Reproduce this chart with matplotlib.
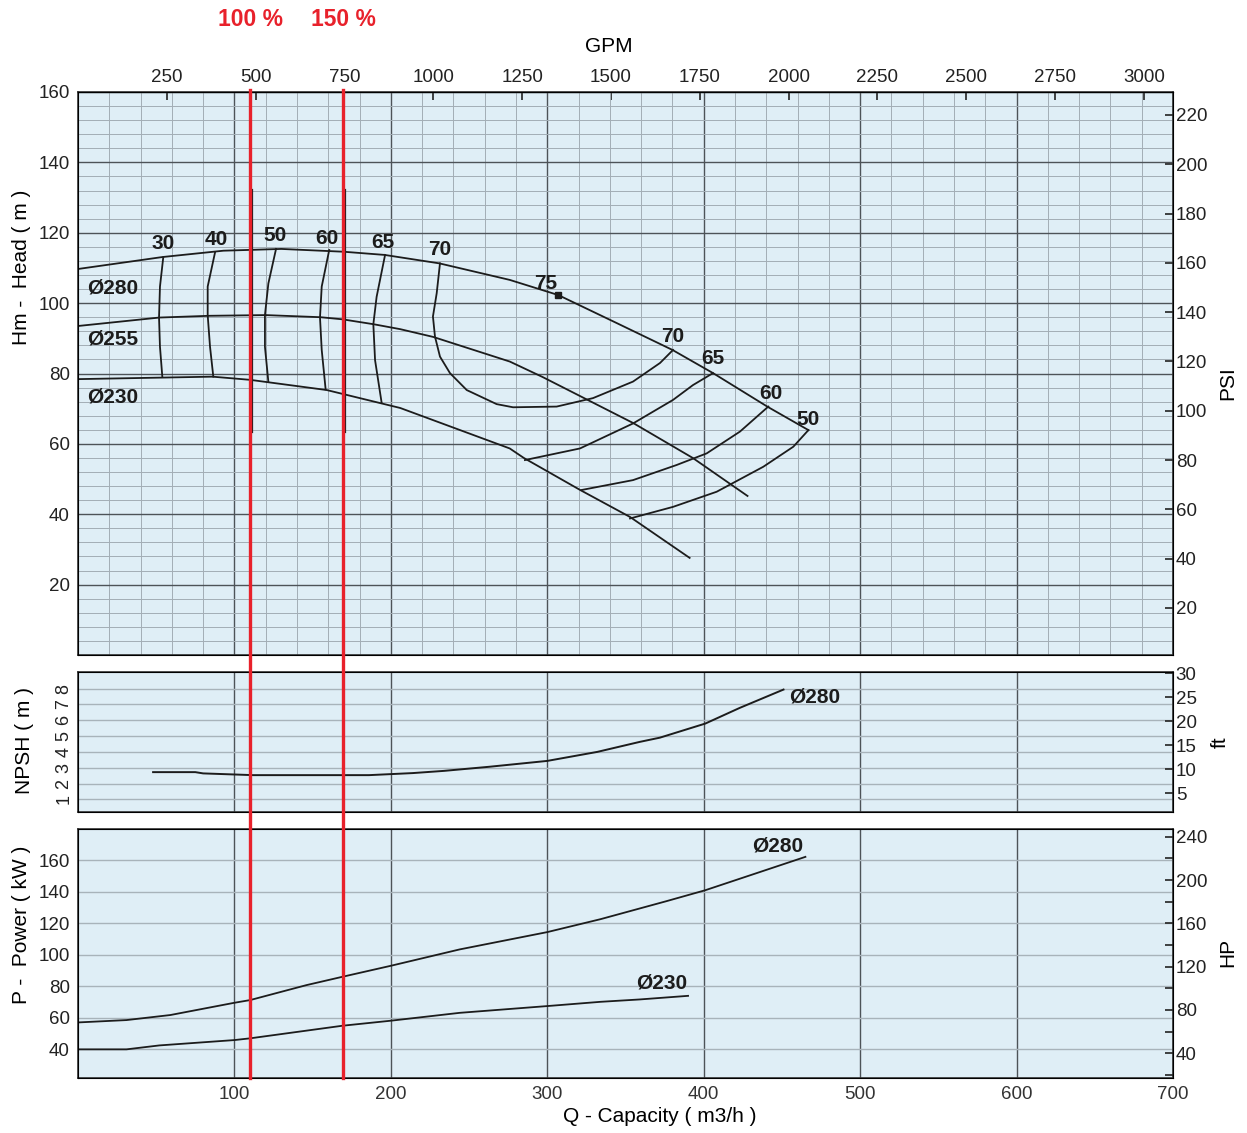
import matplotlib.pyplot as plt
from matplotlib import transforms
from matplotlib.lines import Line2D
from matplotlib.ticker import MultipleLocator

plt.rcParams['font.family'] = ['Liberation Sans', 'DejaVu Sans']

# --- head curves (Q in m3/h, H in m) ---
q280 = [0, 54, 93, 130, 170, 196, 231, 276, 307, 345, 380, 406, 441, 467]
h280 = [109.7, 113.1, 114.9, 115.4, 114.6, 113.7, 111.3, 106.6, 102.3, 94.2, 86.7, 80.1, 70.5, 63.9]
q255 = [0, 52, 84, 120, 155, 169, 189, 206, 227, 276, 297, 355, 393, 428]
h255 = [93.5, 95.9, 96.4, 96.6, 96.0, 95.4, 94.0, 92.6, 90.4, 83.4, 79.0, 65.9, 56.0, 45.2]
q230 = [0, 86, 110, 159, 194, 206, 276, 285, 321, 353, 391]
h230 = [78.4, 79.1, 78.2, 75.3, 71.5, 70.2, 58.7, 56.0, 46.9, 39.2, 27.6]

# iso-efficiency lines
eff_lines = {
    '30': ([54.5, 52.4, 51.8, 52.4, 53.9], [113.0, 104.7, 95.9, 87.6, 79.1]),
    '40': ([87.6, 82.9, 82.9, 84.4, 86.5], [114.4, 104.7, 96.6, 87.6, 79.1]),
    '50': ([126.6, 121.7, 119.5, 119.5, 121.7], [115.4, 105.6, 96.6, 87.6, 77.6]),
    '60': ([160.6, 155.8, 154.7, 155.8, 158.3], [115.1, 104.7, 95.9, 86.7, 75.5]),
    '65': ([196.3, 190.9, 188.8, 189.9, 194.1], [113.7, 101.8, 94.0, 83.8, 71.7]),
    '70': ([231.4, 229.3, 226.9, 228.2, 231.4, 237.8, 248.5, 267.6, 278.1, 306.0, 329.2, 354.8, 372.1, 380.4],
           [111.3, 102.8, 96.2, 90.5, 84.8, 80.1, 75.3, 71.3, 70.4, 70.6, 73.0, 77.7, 83.0, 86.7]),
    '65r': ([285.7, 320.9, 354.8, 380.4, 393.1, 405.9], [55.4, 58.7, 65.8, 72.5, 76.7, 80.1]),
    '60r': ([322.0, 354.8, 382.7, 401.9, 423.2, 441.3], [46.9, 49.7, 54.0, 57.3, 63.5, 70.6]),
    '50r': ([352.9, 380.4, 408.3, 438.1, 457.3, 466.9], [38.8, 42.1, 46.4, 53.5, 59.2, 63.9]),
}
eff_labels = ['30', '40', '50', '60', '65', '70', '75', '70', '65', '60', '50']
eff_label_q = [54.5, 88.2, 126, 159.2, 195, 230.9, 299, 380, 406, 443, 466.7]
eff_label_h = [116.9, 118.0, 119.1, 118.5, 117.1, 115.1, 105.7, 90.4, 84.4, 74.2, 66.8]
bep_q, bep_h = 307, 102.3

dia_labels = ['Ø280', 'Ø255', 'Ø230']
dia_label_h = [104.3, 89.8, 73.3]

# --- NPSH ---
npsh_q = [48, 75, 80, 112, 186, 214, 234, 263, 300, 332, 359, 372, 401, 423, 451]
npsh_m = [2.72, 2.72, 2.64, 2.53, 2.53, 2.66, 2.80, 3.06, 3.43, 4.0, 4.63, 4.9, 5.79, 6.78, 7.94]

# --- power ---
p280_q = [0, 31, 59, 100, 110, 146, 169, 200, 244, 300, 334, 376, 401, 430, 465]
p280_kw = [57.1, 58.6, 61.8, 69.6, 71.3, 80.8, 86.1, 93.1, 103.5, 114.5, 122.7, 134.1, 141.1, 150.7, 162.3]
p230_q = [0, 31, 52, 100, 110, 169, 200, 244, 300, 334, 359, 390]
p230_kw = [40, 40, 42.5, 45.9, 47.0, 55.0, 58.2, 63.2, 67.5, 70.2, 71.7, 74.0]

duty_q = [110, 169.3]
duty_text = ['100 %', '150 %']

bg = '#DFEEF6'
ink = '#1c1c1c'
W, H = 1247, 1133

fig = plt.figure(figsize=(12.47, 11.33), dpi=100)
left, width = 78 / W, (1173 - 78) / W
ax_h = fig.add_axes([left, 1 - 655 / H, width, 563 / H])
ax_n = fig.add_axes([left, 1 - 812 / H, width, 140 / H], sharex=ax_h)
ax_p = fig.add_axes([left, 1 - 1078 / H, width, 249 / H], sharex=ax_h)

for ax in (ax_h, ax_n, ax_p):
    ax.set_facecolor(bg)
    ax.set_xlim(0, 700)
    ax.set_xticks(range(0, 701, 100))
    for s in ax.spines.values():
        s.set_color('#333333')
        s.set_linewidth(1.2)
    ax.tick_params(axis='y', length=0, pad=6, labelsize=13.5, colors='#222222')
    ax.tick_params(axis='x', length=0, labelbottom=False)
    ax.tick_params(which='minor', length=0)
    ax.grid(which='major', axis='x', color='#4d5358', lw=1.0)
    ax.set_axisbelow(True)

# head panel
ax_h.set_ylim(0, 160)
ax_h.set_yticks(range(20, 161, 20))
ax_h.xaxis.set_minor_locator(MultipleLocator(20))
ax_h.yaxis.set_minor_locator(MultipleLocator(4))
ax_h.grid(which='major', axis='y', color='#4d5358', lw=1.0)
ax_h.grid(which='minor', color='#a3aeb5', lw=0.7)

for q, h in [(q280, h280), (q255, h255), (q230, h230)]:
    ax_h.plot(q, h, color=ink, lw=1.3)
for q, h in eff_lines.values():
    ax_h.plot(q, h, color=ink, lw=1.3)
ax_h.plot(bep_q, bep_h, 's', color=ink, ms=4)
for t, q, h in zip(eff_labels, eff_label_q, eff_label_h):
    ax_h.text(q, h, t, ha='center', va='center', fontsize=15, fontweight='bold', color=ink)
for t, h in zip(dia_labels, dia_label_h):
    ax_h.text(22.4, h, t, ha='center', va='center', fontsize=15, fontweight='bold', color=ink)
for q in duty_q:
    ax_h.plot([q + 1.2, q + 1.2], [63.4, 132.1], color=ink, lw=1.6)

ax_psi = ax_h.twinx()
ax_psi.set_ylim(0.93, 229.3)
ax_psi.set_yticks(range(20, 221, 20))
ax_psi.tick_params(direction='in', length=6, width=1.2, labelsize=13.5, pad=2, colors='#222222')

gpm = ax_h.secondary_xaxis('top', functions=(lambda q: q * 4.403, lambda g: g / 4.403))
gpm.set_xticks(range(250, 3001, 250))
gpm.tick_params(direction='in', length=6, width=1.2, labelsize=13.5, pad=4, colors='#222222')

# NPSH panel
ax_n.set_ylim(0.2, 9.05)
ax_n.set_yticks(range(1, 9))
ax_n.grid(which='major', axis='y', color='#a8b3ba', lw=1.0)
ax_n.tick_params(axis='y', labelsize=13, labelrotation=90, pad=4)
for lab in ax_n.get_yticklabels():
    lab.set_va('center')
ax_n.plot(npsh_q, npsh_m, color=ink, lw=1.4)
ax_n.text(471, 7.45, 'Ø280', ha='center', va='center', fontsize=15, fontweight='bold', color=ink)
ax_ft = ax_n.twinx()
ax_ft.set_ylim(1.1, 30.3)
ax_ft.set_yticks(range(5, 31, 5))
ax_ft.tick_params(direction='in', length=6, width=1.2, labelsize=13.5, pad=2, colors='#222222')

# power panel
ax_p.set_ylim(21.8, 180)
ax_p.set_yticks(range(40, 161, 20))
ax_p.grid(which='major', axis='y', color='#a8b3ba', lw=1.0)
ax_p.plot(p280_q, p280_kw, color=ink, lw=1.3)
ax_p.plot(p230_q, p230_kw, color=ink, lw=1.3)
ax_p.text(447, 169, 'Ø280', ha='center', va='center', fontsize=15, fontweight='bold', color=ink)
ax_p.text(373, 81.9, 'Ø230', ha='center', va='center', fontsize=15, fontweight='bold', color=ink)
ax_p.tick_params(axis='x', labelbottom=True, labelsize=13.5, pad=6, colors='#333333')
ax_p.set_xticks(range(100, 701, 100))
ax_hp = ax_p.twinx()
ax_hp.set_ylim(17.2, 247.1)
ax_hp.set_yticks(range(40, 241, 40))
ax_hp.yaxis.set_minor_locator(MultipleLocator(20))
ax_hp.tick_params(which='both', direction='in', length=6, width=1.2, labelsize=13.5, pad=2, colors='#222222')

# axis titles placed in figure pixels
def label(x, y, s, rot=0):
    fig.text(x / W, 1 - y / H, s, rotation=rot, ha='center', va='center', fontsize=15)

label(22, 267, 'Hm -  Head ( m )', 90)
label(24, 741, 'NPSH ( m )', 90)
label(22, 925, 'P -  Power ( kW )', 90)
label(1228, 383, 'PSI', 90)
label(1220, 742, 'ft', 90)
label(1228, 952, 'HP', 90)
label(609, 46, 'GPM')
label(660, 1117, 'Q - Capacity ( m3/h )')

# red duty-point lines across all panels
trans = transforms.blended_transform_factory(ax_h.transData, fig.transFigure)
for q, t in zip(duty_q, duty_text):
    fig.add_artist(Line2D([q, q], [1 - 90 / H, 1 - 1078 / H], transform=trans,
                          color='#E8212B', lw=2.4, zorder=10))
    fig.text(q + 0.5, 1 - 20 / H, t, transform=trans, ha='center', va='center',
             fontsize=16.5, fontweight='bold', color='#E8212B')

fig.savefig('out.png', dpi=100, facecolor='white')
